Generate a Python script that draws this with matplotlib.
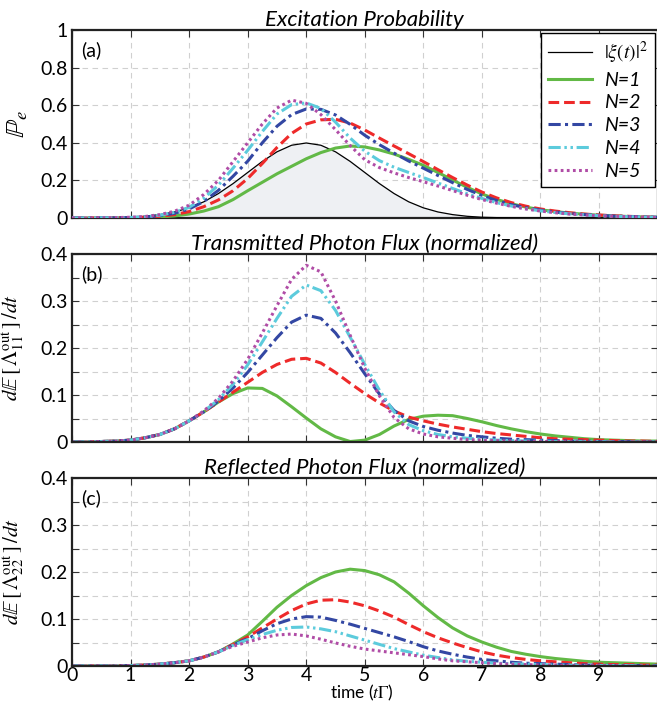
import numpy as np
import matplotlib
matplotlib.use("Agg")
import matplotlib.pyplot as plt
from matplotlib.ticker import MultipleLocator, FuncFormatter

# =============================
# DATOS
# =============================
tiempo = np.arange(0, 10.01, 0.25)

xi2 = [0.000, 0.000, 0.001, 0.002, 0.004, 0.009, 0.018, 0.032, 0.054, 0.086, 0.130,
       0.183, 0.242, 0.301, 0.352, 0.387, 0.399, 0.387, 0.352, 0.301, 0.242, 0.183,
       0.130, 0.086, 0.054, 0.032, 0.018, 0.009, 0.004, 0.002, 0.001, 0.000, 0.000,
       0.000, 0.000, 0.000, 0.000, 0.000, 0.000, 0.000, 0.000]

# (a) probabilidad de excitacion
pe_n1 = [0.000, 0.000, 0.000, 0.001, 0.001, 0.002, 0.005, 0.011, 0.021, 0.037, 0.060,
         0.098, 0.145, 0.190, 0.235, 0.275, 0.315, 0.348, 0.372, 0.383, 0.378, 0.362,
         0.340, 0.312, 0.280, 0.242, 0.202, 0.163, 0.128, 0.099, 0.076, 0.058, 0.044,
         0.034, 0.026, 0.020, 0.015, 0.011, 0.008, 0.006, 0.004]
pe_n2 = [0.000, 0.000, 0.000, 0.001, 0.002, 0.004, 0.009, 0.018, 0.034, 0.060, 0.096,
         0.145, 0.210, 0.290, 0.375, 0.450, 0.500, 0.522, 0.525, 0.505, 0.468, 0.425,
         0.383, 0.342, 0.300, 0.257, 0.215, 0.175, 0.138, 0.107, 0.082, 0.063, 0.048,
         0.037, 0.028, 0.021, 0.016, 0.012, 0.009, 0.006, 0.005]
pe_n3 = [0.000, 0.000, 0.001, 0.001, 0.002, 0.005, 0.012, 0.025, 0.048, 0.088, 0.147,
         0.222, 0.302, 0.400, 0.488, 0.550, 0.580, 0.578, 0.548, 0.498, 0.440, 0.390,
         0.345, 0.303, 0.265, 0.226, 0.188, 0.152, 0.120, 0.093, 0.071, 0.055, 0.042,
         0.032, 0.024, 0.018, 0.014, 0.010, 0.008, 0.006, 0.004]
pe_n4 = [0.000, 0.000, 0.001, 0.001, 0.003, 0.006, 0.015, 0.030, 0.057, 0.105, 0.175,
         0.265, 0.360, 0.460, 0.553, 0.603, 0.612, 0.583, 0.510, 0.425, 0.355, 0.305,
         0.270, 0.242, 0.215, 0.186, 0.157, 0.129, 0.104, 0.082, 0.064, 0.050, 0.038,
         0.029, 0.022, 0.017, 0.012, 0.009, 0.007, 0.005, 0.004]
pe_n5 = [0.000, 0.000, 0.001, 0.002, 0.004, 0.008, 0.018, 0.036, 0.068, 0.125, 0.200,
         0.300, 0.400, 0.500, 0.585, 0.627, 0.610, 0.550, 0.470, 0.385, 0.310, 0.268,
         0.240, 0.215, 0.193, 0.170, 0.146, 0.121, 0.098, 0.079, 0.062, 0.048, 0.037,
         0.028, 0.021, 0.016, 0.012, 0.009, 0.007, 0.005, 0.003]

# (b) flujo transmitido
tr_n1 = [0.000, 0.000, 0.001, 0.002, 0.004, 0.009, 0.016, 0.028, 0.045, 0.064, 0.085,
         0.103, 0.115, 0.114, 0.098, 0.075, 0.051, 0.028, 0.011, 0.001, 0.004, 0.016,
         0.034, 0.048, 0.055, 0.057, 0.056, 0.050, 0.043, 0.035, 0.028, 0.022, 0.017,
         0.013, 0.010, 0.007, 0.005, 0.004, 0.003, 0.002, 0.002]
tr_n2 = [0.000, 0.000, 0.001, 0.002, 0.004, 0.009, 0.016, 0.028, 0.045, 0.064, 0.085,
         0.106, 0.127, 0.148, 0.165, 0.176, 0.178, 0.168, 0.148, 0.125, 0.103, 0.083,
         0.066, 0.053, 0.045, 0.038, 0.032, 0.027, 0.022, 0.018, 0.015, 0.012, 0.009,
         0.007, 0.006, 0.005, 0.004, 0.003, 0.002, 0.002, 0.001]
tr_n3 = [0.000, 0.000, 0.001, 0.002, 0.004, 0.009, 0.016, 0.028, 0.045, 0.064, 0.087,
         0.115, 0.148, 0.185, 0.222, 0.255, 0.270, 0.263, 0.232, 0.190, 0.145, 0.102,
         0.067, 0.045, 0.033, 0.025, 0.019, 0.014, 0.011, 0.008, 0.006, 0.005, 0.004,
         0.003, 0.002, 0.002, 0.001, 0.001, 0.001, 0.000, 0.000]
tr_n4 = [0.000, 0.000, 0.001, 0.002, 0.004, 0.009, 0.016, 0.028, 0.045, 0.065, 0.090,
         0.123, 0.164, 0.213, 0.263, 0.310, 0.334, 0.322, 0.280, 0.223, 0.165, 0.110,
         0.064, 0.037, 0.024, 0.016, 0.011, 0.008, 0.006, 0.004, 0.003, 0.002, 0.002,
         0.001, 0.001, 0.001, 0.001, 0.000, 0.000, 0.000, 0.000]
tr_n5 = [0.000, 0.000, 0.001, 0.002, 0.004, 0.009, 0.016, 0.028, 0.045, 0.066, 0.093,
         0.130, 0.176, 0.232, 0.290, 0.346, 0.376, 0.362, 0.300, 0.227, 0.157, 0.098,
         0.052, 0.028, 0.017, 0.011, 0.008, 0.005, 0.004, 0.003, 0.002, 0.001, 0.001,
         0.001, 0.001, 0.000, 0.000, 0.000, 0.000, 0.000, 0.000]

# (c) flujo reflejado
rf_n1 = [0.000, 0.000, 0.000, 0.000, 0.001, 0.002, 0.004, 0.007, 0.011, 0.019, 0.030,
         0.047, 0.066, 0.095, 0.125, 0.150, 0.171, 0.188, 0.200, 0.206, 0.203, 0.194,
         0.179, 0.155, 0.128, 0.103, 0.081, 0.064, 0.051, 0.040, 0.031, 0.025, 0.020,
         0.016, 0.013, 0.010, 0.008, 0.007, 0.006, 0.005, 0.004]
rf_n2 = [0.000, 0.000, 0.000, 0.000, 0.001, 0.002, 0.004, 0.007, 0.011, 0.019, 0.030,
         0.046, 0.062, 0.081, 0.100, 0.118, 0.132, 0.140, 0.141, 0.136, 0.128, 0.117,
         0.104, 0.088, 0.073, 0.060, 0.049, 0.039, 0.030, 0.023, 0.018, 0.014, 0.011,
         0.009, 0.007, 0.005, 0.004, 0.003, 0.003, 0.002, 0.002]
rf_n3 = [0.000, 0.000, 0.000, 0.000, 0.001, 0.002, 0.004, 0.007, 0.011, 0.019, 0.030,
         0.045, 0.058, 0.075, 0.090, 0.100, 0.105, 0.104, 0.097, 0.089, 0.080, 0.071,
         0.062, 0.052, 0.041, 0.032, 0.025, 0.019, 0.014, 0.011, 0.008, 0.006, 0.005,
         0.004, 0.003, 0.002, 0.002, 0.001, 0.001, 0.001, 0.001]
rf_n4 = [0.000, 0.000, 0.000, 0.000, 0.001, 0.002, 0.004, 0.007, 0.011, 0.019, 0.030,
         0.044, 0.056, 0.067, 0.076, 0.082, 0.083, 0.079, 0.073, 0.064, 0.055, 0.046,
         0.037, 0.030, 0.023, 0.018, 0.013, 0.010, 0.008, 0.006, 0.005, 0.004, 0.003,
         0.002, 0.002, 0.001, 0.001, 0.001, 0.001, 0.000, 0.000]
rf_n5 = [0.000, 0.000, 0.000, 0.000, 0.001, 0.002, 0.004, 0.007, 0.011, 0.019, 0.030,
         0.042, 0.051, 0.060, 0.066, 0.068, 0.064, 0.057, 0.049, 0.042, 0.036, 0.032,
         0.028, 0.024, 0.020, 0.015, 0.011, 0.009, 0.007, 0.005, 0.004, 0.003, 0.002,
         0.002, 0.001, 0.001, 0.001, 0.001, 0.000, 0.000, 0.000]

etiquetas = ["N=1", "N=2", "N=3", "N=4", "N=5"]
colores = ["#62b946", "#ee2a2a", "#3347a3", "#5ccbdc", "#b04ca6"]
estilos = ["-", (0, (3.5, 1.6)), (0, (4, 1.4, 1, 1.4)),
           (0, (4, 1.2, 0.8, 1.2, 0.8, 1.2)), (0, (0.9, 1.1))]

# =============================
# ESTILO
# =============================
plt.rcParams["font.family"] = ["Lato", "DejaVu Sans"]
plt.rcParams["mathtext.fontset"] = "stix"
plt.rcParams["xtick.direction"] = "in"
plt.rcParams["ytick.direction"] = "in"

fig = plt.figure(figsize=(6.57, 7.02), dpi=100)
izq = 72 / 657
ancho = 585.6 / 657
alto = 188 / 702
ax_a = fig.add_axes([izq, 1 - 218 / 702, ancho, alto])
ax_b = fig.add_axes([izq, 1 - 442 / 702, ancho, alto])
ax_c = fig.add_axes([izq, 1 - 666 / 702, ancho, alto])

fmt = FuncFormatter(lambda v, p: "%g" % round(v, 2))


def preparar(ax, ymax, paso, menor, titulo, letra):
    ax.set_xlim(0, 10)
    ax.set_ylim(0, ymax)
    ax.set_xticks(range(0, 10))
    ax.yaxis.set_major_locator(MultipleLocator(paso))
    ax.yaxis.set_major_formatter(fmt)
    if menor:
        ax.yaxis.set_minor_locator(MultipleLocator(menor))
    ax.tick_params(which="both", top=True, right=True, labelsize=14,
                   length=5, width=0.8, color="#333333")
    ax.tick_params(axis="y", pad=3)
    ax.tick_params(axis="x", pad=0.5)
    ax.grid(True, which="both", color="#d0d0d0", linestyle=(0, (5, 4)), linewidth=0.8)
    ax.set_axisbelow(True)
    for s in ax.spines.values():
        s.set_linewidth(1.6)
        s.set_color("#222222")
    ax.set_title(titulo, fontsize=16, style="italic", pad=2)
    ax.text(0.015, 0.94, letra, transform=ax.transAxes, fontsize=14,
            va="top", ha="left")


# =============================
# (a) PROBABILIDAD DE EXCITACION
# =============================
preparar(ax_a, 1, 0.2, None, "Excitation Probability", "(a)")
ax_a.fill_between(tiempo, xi2, color="#eef0f3", zorder=1)
ax_a.plot(tiempo, xi2, color="black", lw=0.9, label=r"$|\xi(t)|^2$", zorder=3)
for serie, lab, col, ls in zip([pe_n1, pe_n2, pe_n3, pe_n4, pe_n5], etiquetas, colores, estilos):
    ax_a.plot(tiempo, serie, color=col, linestyle=ls, lw=2.2, label=lab, zorder=3)
ax_a.set_ylabel(r"$\mathbb{P}_e$", fontsize=19)
ax_a.yaxis.set_label_coords(-0.072, 0.5)
ax_a.tick_params(labelbottom=False)

leg = ax_a.legend(loc="upper right", bbox_to_anchor=(0.995, 0.985), borderaxespad=0,
                  fancybox=False, framealpha=1, edgecolor="black", fontsize=14,
                  handlelength=2.3, labelspacing=0.3, borderpad=0.35, handletextpad=0.6)
leg.get_frame().set_linewidth(1.0)
for txt in leg.get_texts()[1:]:
    txt.set_style("italic")

# =============================
# (b) FLUJO TRANSMITIDO
# =============================
preparar(ax_b, 0.4, 0.1, 0.05, "Transmitted Photon Flux (normalized)", "(b)")
for serie, col, ls in zip([tr_n1, tr_n2, tr_n3, tr_n4, tr_n5], colores, estilos):
    ax_b.plot(tiempo, serie, color=col, linestyle=ls, lw=2.2)
ax_b.set_ylabel(r"$d\mathbb{E}\,[\,\Lambda_{11}^{\mathrm{out}}\,]\,/dt$", fontsize=15)
ax_b.yaxis.set_label_coords(-0.078, 0.5)
ax_b.tick_params(labelbottom=False)

# =============================
# (c) FLUJO REFLEJADO
# =============================
preparar(ax_c, 0.4, 0.1, 0.05, "Reflected Photon Flux (normalized)", "(c)")
for serie, col, ls in zip([rf_n1, rf_n2, rf_n3, rf_n4, rf_n5], colores, estilos):
    ax_c.plot(tiempo, serie, color=col, linestyle=ls, lw=2.2)
ax_c.set_ylabel(r"$d\mathbb{E}\,[\,\Lambda_{22}^{\mathrm{out}}\,]\,/dt$", fontsize=15)
ax_c.yaxis.set_label_coords(-0.078, 0.5)
fig.text(izq + ancho * 0.5 - 0.005, 1 - 693 / 702, r"time ($t\Gamma$)", fontsize=12.5,
         ha="center", va="center")

fig.savefig("out.png", dpi=100)
